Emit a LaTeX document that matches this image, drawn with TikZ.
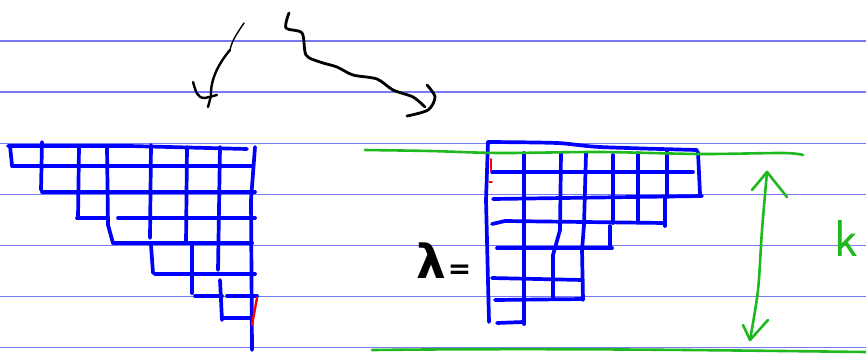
\documentclass[tikz,border=0pt]{standalone}
\usepackage{fontspec}
\newfontfamily\djfont{DejaVu Sans}
\begin{document}
\begin{tikzpicture}[x=1pt,y=-1pt,line cap=round,line join=round,
  paper/.style={draw={rgb,255:red,120;green,120;blue,245},line width=1.1pt},
  grid/.style={draw={rgb,255:red,0;green,0;blue,255},line width=3.7pt},
  ink/.style={draw=black,line width=2.8pt},
  grn/.style={draw={rgb,255:red,30;green,185;blue,30},line width=2.6pt},
  redink/.style={draw=red,line width=2.4pt}]
\useasboundingbox (0,0) rectangle (866,354);
% ruled paper lines
\foreach \yy in {41,92,143.5,194.5,245.5,296.5,347.5}
  \draw[paper] (0,\yy) -- (866,\yy);
% top black strokes
\draw[ink,line width=1.4pt] (244,23) .. controls (238,32) and (232,40) .. (230,50);
\draw[ink,line width=2.4pt] (230,50) .. controls (220,62) and (210,78) .. (211,97);
\draw[ink,line width=2.4pt] (193,82) .. controls (196,92) and (197,98) .. (205,98) -- (217,95);
\draw[ink,line width=2.4pt] (211,96) -- (208,107);
\draw[ink] plot[smooth] coordinates {(289,13) (286,28) (302,33) (306,55) (320,62) (337,67) (353,75) (377,79) (393,90) (413,97) (425,107)};
\draw[ink] plot[smooth] coordinates {(427,85) (435,97) (428,110) (407,116)};
% left diagram (staircase)
\draw[grid] (8,146) -- (130,146) -- (247,149);
\draw[grid] (12,166) -- (252,166);
\draw[grid] (42,192) -- (255,192);
\draw[grid] (77,218) -- (108,218);
\draw[grid] (118,218) -- (255,218);
\draw[grid] (113,243) -- (252,243);
\draw[grid] (155,274) -- (255,274);
\draw[grid] (195,296) -- (222,296);
\draw[grid] (227,296) -- (257,296);
\draw[grid] (222,318) -- (252,318);
\draw[grid] (10,146) -- (12,165);
\draw[grid] (42,142) -- (41,190);
\draw[grid] (79,147) -- (78,218);
\draw[grid] (107,147) -- (108,225) -- (113,243);
\draw[grid] (151,145) -- (150,238);
\draw[grid] (151,245) -- (153,273);
\draw[grid] (187,147) -- (186,243);
\draw[grid] (192,245) -- (192,293);
\draw[grid] (220,147) -- (218,270);
\draw[grid] (220,280) -- (222,320);
\draw[grid] (255,147) -- (251,200) -- (252,350);
\draw[redink] (257,298) -- (252,325);
% right diagram
\draw[grid] plot[smooth] coordinates {(488,142) (557,143) (600,147) (697,150)};
\draw[grid] (492,172) -- (693,172);
\draw[grid] (493,199) -- (702,196);
\draw[grid] (492,224) -- (505,221) -- (665,223);
\draw[grid] (497,248) -- (612,248);
\draw[grid] (492,278) -- (583,280);
\draw[grid] (495,300) -- (583,299);
\draw[grid] (497,323) -- (523,322);
\draw[grid] (488,142) -- (486,200) -- (489,322);
\draw[grid] (524,153) -- (524,324);
\draw[grid] (561,153) -- (560,230) -- (553,255) -- (553,299);
\draw[grid] (586,153) -- (584,225) -- (582,250) -- (583,300);
\draw[grid] (613,155) -- (613,223);
\draw[grid] (610,226) -- (610,247);
\draw[grid] (638,153) -- (638,222);
\draw[grid] (667,152) -- (667,197);
\draw[grid] (665,199) -- (665,226);
\draw[grid] (698,152) -- (700,194);
\draw[redink,line width=1.8pt] (491,159) -- (491,171);
\draw[redink,line width=1.4pt] (489,182) -- (492,182);
% green lines
\draw[grn] plot[smooth] coordinates {(365,150) (430,151) (500,153) (600,152) (700,154) (783,153) (803,155)};
\draw[grn] (372,350) .. controls (550,348) and (700,350) .. (866,352);
\draw[grn] plot[smooth] coordinates {(767,172) (762,230) (758,290) (750,340)};
\draw[grn] (752,190) -- (767,172) -- (787,197);
\draw[grn] (743,325) -- (750,340) -- (768,320);
% labels
\node[inner sep=0pt,anchor=base west] (lam) at (416,278) {\djfont\bfseries{\fontsize{47}{47}\selectfont λ}\hspace{2pt}{\fontsize{28}{28}\selectfont =}};
\node[inner sep=0pt,text={rgb,255:red,30;green,185;blue,30}] (k) at (846,238) {\fontsize{52}{52}\selectfont\sffamily k};
\end{tikzpicture}
\end{document}
